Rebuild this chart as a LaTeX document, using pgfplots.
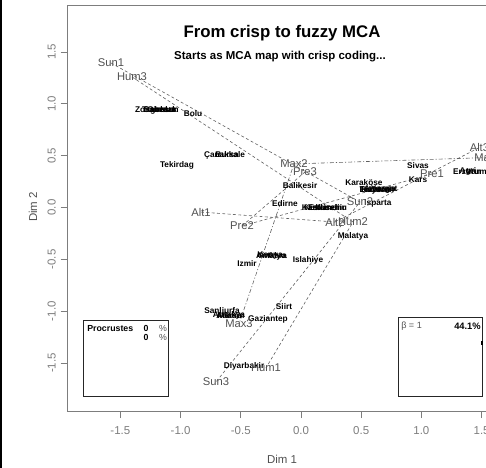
\documentclass[border=0pt]{standalone}
\usepackage{fontspec}
\setmainfont{Liberation Sans}
\usepackage{pgfplots}
\pgfplotsset{compat=1.18}
\definecolor{axgray}{RGB}{125,125,125}
\definecolor{labgray}{RGB}{80,80,80}
\definecolor{lngray}{RGB}{95,95,95}
\begin{document}
\begin{tikzpicture}[x=0.75pt,y=-0.75pt]
\useasboundingbox (0,0) rectangle (486,468);
\clip (0,0) rectangle (486,468);
\begin{axis}[
  at={(50.625pt,-308.25pt)}, anchor=south west,
  scale only axis, width=346.7pt, height=304.5pt,
  xmin=-1.939, xmax=1.9, ymin=-1.963, ymax=1.953,
  axis line style={axgray, line width=0.7pt},
  tick style={axgray, line width=0.6pt},
  tick align=outside, major tick length=5.25pt,
  xtick pos=bottom, ytick pos=left,
  xtick={-1.5,-1,-0.5,0,0.5,1,1.5},
  xticklabels={-1.5,-1.0,-0.5,0.0,0.5,1.0,1.5},
  ytick={-1.5,-1,-0.5,0,0.5,1,1.5},
  yticklabels={-1.5,-1.0,-0.5,0.0,0.5,1.0,1.5},
  ticklabel style={font=\fontsize{8.6}{10}\selectfont, text=axgray},
  xticklabel style={yshift=-3pt},
  yticklabel style={rotate=90, anchor=south},
]
% Sun
\addplot[lngray, line width=0.45pt, dash pattern=on 2.2pt off 1.8pt] coordinates {(-1.578,1.394) (0.490,0.053) (-0.706,-1.683)};
% Hum
\addplot[lngray, line width=0.45pt, dash pattern=on 2.2pt off 1.8pt] coordinates {(-1.403,1.259) (0.432,-0.140) (-0.291,-1.548)};
% Max
\addplot[lngray, line width=0.45pt, dash pattern=on 3pt off 1.5pt on 0.8pt off 1.5pt] coordinates {(1.553,0.482) (-0.058,0.420) (-0.515,-1.124)};
% Pre
\addplot[lngray, line width=0.45pt, dash pattern=on 2.2pt off 1.8pt] coordinates {(1.088,0.323) (-0.490,-0.178) (0.033,0.342)};
% Alt
\addplot[lngray, line width=0.45pt, dash pattern=on 2.2pt off 1.8pt] coordinates {(-0.830,-0.044) (0.282,-0.140) (1.482,0.579)};
% city labels
\addplot[only marks, mark=*, mark size=0pt, mark options={draw=none,fill=none},
  nodes near coords, point meta=explicit symbolic,
  nodes near coords style={anchor=center, inner sep=0pt, text=black, font=\bfseries\fontsize{6.2}{7}\selectfont}]
table[meta=lab] {
x y lab
-1.204 0.940 Zonguldak
-1.187 0.940 Trabzon
-1.171 0.940 Samsun
-1.146 0.940 Giresun
-0.897 0.902 Bolu
-0.635 0.506 Çanakkale
-0.614 0.506 Bursa
-1.030 0.410 Tekirdag
-0.008 0.207 Balikesir
-0.133 0.034 Edirne
0.195 -0.005 Kastamonu
0.174 -0.005 Kirklareli
0.216 -0.005 Eskisehir
0.523 0.236 Karaköse
0.631 0.169 Erzincan
0.575 0.169 Tokat
0.690 0.169 Yozgat
0.625 0.169 Kayseri
0.655 0.169 Amasya
0.639 0.039 Isparta
0.972 0.400 Sivas
0.972 0.265 Kars
1.403 0.347 Erzurum
1.437 0.347 Van
1.387 0.347 Agri
0.432 -0.280 Malatya
-0.249 -0.468 Antalya
-0.233 -0.468 Ankara
-0.257 -0.468 Konya
-0.448 -0.540 Izmir
0.058 -0.506 Islahiye
-0.141 -0.955 Siirt
-0.656 -0.994 Sanliurfa
-0.598 -1.042 Adana
-0.581 -1.042 Mersin
-0.598 -1.042 Antakya
-0.274 -1.076 Gaziantep
-0.473 -1.529 Diyarbakir
};
% category labels
\addplot[only marks, mark=*, mark size=0pt, mark options={draw=none,fill=none},
  nodes near coords, point meta=explicit symbolic,
  nodes near coords style={anchor=center, inner sep=0pt, text=labgray, font=\fontsize{8.4}{9}\selectfont}]
table[meta=lab] {
x y lab
-1.578 1.394 Sun1
0.490 0.053 Sun2
-0.706 -1.683 Sun3
-0.291 -1.548 Hum1
0.432 -0.140 Hum2
-1.403 1.259 Hum3
1.553 0.482 Max1
-0.058 0.420 Max2
-0.515 -1.124 Max3
1.088 0.323 Pre1
-0.490 -0.178 Pre2
0.033 0.342 Pre3
-0.830 -0.044 Alt1
0.282 -0.140 Alt2
1.482 0.579 Alt3
};
\end{axis}
% left border line
\draw[black, line width=1.1pt] (0.8,0) -- (0.8,468);
% titles
\node[font=\bfseries\fontsize{12.6}{14}\selectfont] at (282,33) {From crisp to fuzzy MCA};
\node[font=\bfseries\fontsize{8.6}{10}\selectfont] at (280,57) {Starts as MCA map with crisp coding...};
% axis titles
\node[font=\fontsize{8.6}{10}\selectfont, text=labgray] at (282,459) {Dim 1};
\node[font=\fontsize{8.6}{10}\selectfont, text=labgray, rotate=90] at (33,207) {Dim 2};
% Procrustes box
\draw[black!85, line width=0.6pt] (83,320) rectangle (168,396);
\node[anchor=west, inner sep=0pt, font=\bfseries\fontsize{6.6}{7}\selectfont] at (87,328.5) {Procrustes};
\node[inner sep=0pt, font=\bfseries\fontsize{6.6}{7}\selectfont] at (146,328.5) {0};
\node[inner sep=0pt, font=\fontsize{6.6}{7}\selectfont, text=labgray] at (163,328.5) {\%};
\node[inner sep=0pt, font=\bfseries\fontsize{6.6}{7}\selectfont] at (146,337.5) {0};
\node[inner sep=0pt, font=\fontsize{6.6}{7}\selectfont, text=labgray] at (163,337.5) {\%};
% beta box
\draw[black!85, line width=0.6pt] (398,317) rectangle (482,396);
\node[anchor=west, inner sep=0pt, font=\fontsize{6.8}{7}\selectfont, text=labgray] at (401,326.5) {β = 1};
\node[anchor=east, inner sep=0pt, font=\bfseries\fontsize{7}{8}\selectfont] at (481,326.5) {44.1\%};
\draw[black, line width=0.8pt] (482,341) -- (482,345);
\end{tikzpicture}
\end{document}
